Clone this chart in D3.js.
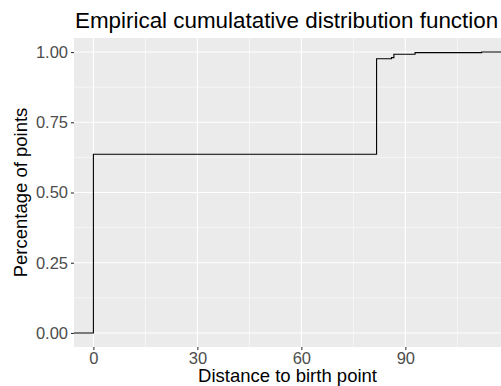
<!DOCTYPE html>
<html>
<head>
<meta charset="utf-8">
<script src="https://cdn.jsdelivr.net/npm/d3@7"></script>
<style>
  body { margin: 0; background: #fff; }
  text { font-family: "Liberation Sans", Arial, sans-serif; }
</style>
</head>
<body>
<svg id="chart" width="501" height="386"></svg>
<script>
// ecdf step points (distance, cumulative share)
var stepX = [0, 81.7, 86.0, 86.7, 92.8, 112.0];
var stepY = [0.636, 0.976, 0.980, 0.992, 0.998, 1.0];
var xTicks = [0, 30, 60, 90];
var yTicks = [0, 0.25, 0.5, 0.75, 1];
var xMinor = [15, 45, 75, 105];
var yMinor = [0.125, 0.375, 0.625, 0.875];

var W = 501, H = 386;
var m = {left: 74, right: 0, top: 38, bottom: 39};
var pw = W - m.left - m.right, ph = H - m.top - m.bottom;

var svg = d3.select('#chart');
var xmax = d3.max(stepX), xr = xmax - 0;
var x = d3.scaleLinear().domain([-0.05 * xr, xmax + 0.05 * xr]).range([0, pw]);
var y = d3.scaleLinear().domain([-0.05, 1.05]).range([ph, 0]);

var g = svg.append('g').attr('transform', 'translate(' + m.left + ',' + m.top + ')');

g.append('rect').attr('width', pw).attr('height', ph).attr('fill', '#ebebeb');

g.selectAll('.xminor').data(xMinor).enter().append('line')
  .attr('x1', function(d) { return x(d); }).attr('x2', function(d) { return x(d); })
  .attr('y1', 0).attr('y2', ph).attr('stroke', '#fff').attr('stroke-width', 0.55);
g.selectAll('.yminor').data(yMinor).enter().append('line')
  .attr('y1', function(d) { return y(d); }).attr('y2', function(d) { return y(d); })
  .attr('x1', 0).attr('x2', pw).attr('stroke', '#fff').attr('stroke-width', 0.55);
g.selectAll('.xmajor').data(xTicks).enter().append('line')
  .attr('x1', function(d) { return x(d); }).attr('x2', function(d) { return x(d); })
  .attr('y1', 0).attr('y2', ph).attr('stroke', '#fff').attr('stroke-width', 1.1);
g.selectAll('.ymajor').data(yTicks).enter().append('line')
  .attr('y1', function(d) { return y(d); }).attr('y2', function(d) { return y(d); })
  .attr('x1', 0).attr('x2', pw).attr('stroke', '#fff').attr('stroke-width', 1.1);

// step line, padded out to the panel edges like stat_ecdf
var pts = [[x.domain()[0], 0]];
stepX.forEach(function(d, i) { pts.push([d, stepY[i]]); });
pts.push([x.domain()[1], 1]);
var line = d3.line().x(function(d) { return x(d[0]); }).y(function(d) { return y(d[1]); })
  .curve(d3.curveStepAfter);
g.append('path').datum(pts).attr('d', line)
  .attr('fill', 'none').attr('stroke', '#000').attr('stroke-width', 1.1);

var xAxis = g.append('g').attr('transform', 'translate(0,' + ph + ')')
  .call(d3.axisBottom(x).tickValues(xTicks).tickSize(3).tickPadding(2).tickFormat(d3.format('d')));
var yAxis = g.append('g')
  .call(d3.axisLeft(y).tickValues(yTicks).tickSize(3).tickPadding(3).tickFormat(d3.format('.2f')));
[xAxis, yAxis].forEach(function(a) {
  a.select('.domain').remove();
  a.selectAll('line').attr('stroke', '#333').attr('stroke-width', 1.1);
  a.selectAll('text').attr('fill', '#4d4d4d').style('font-size', '16.5px');
});

svg.append('text').attr('x', m.left + 1).attr('y', 28).attr('fill', '#000')
  .style('font-size', '22.4px').text('Empirical cumulatative distribution function');
svg.append('text').attr('x', m.left + pw / 2).attr('y', 382).attr('text-anchor', 'middle')
  .attr('fill', '#000').style('font-size', '18.5px').text('Distance to birth point');
svg.append('text').attr('transform', 'translate(26.5,' + (m.top + ph / 2) + ') rotate(-90)')
  .attr('text-anchor', 'middle').attr('fill', '#000').style('font-size', '18.5px')
  .text('Percentage of points');
</script>
</body>
</html>
